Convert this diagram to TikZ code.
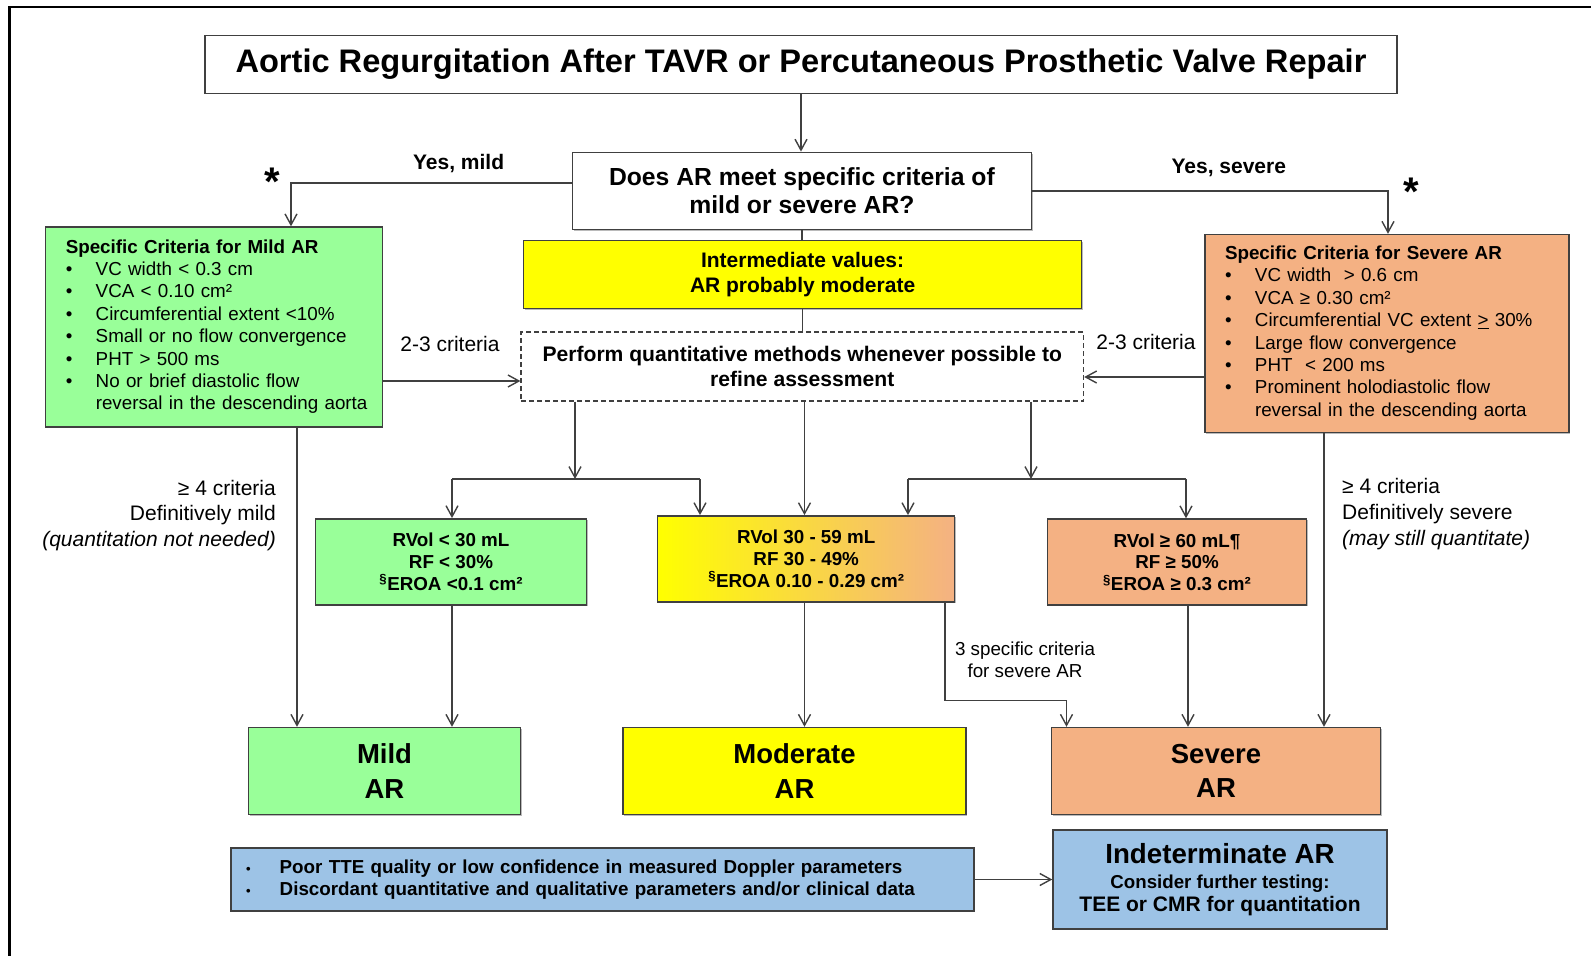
\documentclass[tikz,border=0pt]{standalone}
\usepackage{fontspec}
\setmainfont{Liberation Sans}
\usetikzlibrary{arrows.meta,shadows,calc}
\definecolor{grn}{RGB}{153,255,153}
\definecolor{ylw}{RGB}{255,255,0}
\definecolor{org}{RGB}{244,177,131}
\definecolor{blu}{RGB}{157,195,230}
\definecolor{edge}{RGB}{64,64,64}
\newcommand{\fs}[2]{\fontsize{#1}{#2}\selectfont}
\newcommand{\bul}{\makebox[30pt][l]{\textbullet}}
\newcommand{\sbul}{\makebox[33.7pt][l]{\fs{13}{13}\textbullet}}
\begin{document}
\begin{tikzpicture}[x=1pt,y=-1pt,
  box/.style={draw=edge, line width=1.4pt, inner sep=0pt, align=center,
    drop shadow={shadow xshift=1.2pt, shadow yshift=-1.2pt, fill=black!45, opacity=0.6}},
  arr/.style={draw=edge, line width=1.4pt, -{Straight Barb[length=11pt,width=12pt]}},
  ln/.style={draw=edge, line width=1.4pt},
  lbl/.style={inner sep=0pt, font=\fs{21}{25.7}},
]
\useasboundingbox (0,0) rectangle (1591,956);
\draw[line width=2.5pt] (9.5,970) -- (9.5,7) -- (1600,7);

% boxes
\node[box, fill=white, minimum width=1192pt, minimum height=58pt, font=\bfseries\fs{32.6}{36}] (title) at (801,64.2)
  {Aortic Regurgitation After TAVR or Percutaneous Prosthetic Valve Repair};
\node[box, fill=white, minimum width=459pt, minimum height=77pt, font=\bfseries\fs{24.7}{28.5}] (question) at (801.9,190.8)
  {Does AR meet specific criteria of\\mild or severe AR?};
\node[box, fill=ylw, minimum width=558pt, minimum height=68pt, font=\bfseries\fs{21}{25}] (inter) at (802.6,274.5)
  {Intermediate values:\\AR probably moderate};
\node[draw=edge, line width=1.3pt, dash pattern=on 5pt off 3pt, fill=white, inner sep=0pt, align=center,
  minimum width=562.5pt, minimum height=69pt, font=\bfseries\fs{21.1}{25.5}] (dashed) at (802.3,366.5)
  {Perform quantitative methods whenever possible to\\refine assessment};

\node[box, fill=grn, align=left, text width=296.5pt, inner xsep=20pt, minimum height=200pt, font=\fs{18.8}{22.4}] (mildcrit) at (214,327)
  {\begin{tabular}{@{}l@{}l@{}}
   \multicolumn{2}{@{}l@{}}{\textbf{Specific Criteria for Mild AR}}\\
   \bul & VC width < 0.3 cm\\
   \bul & VCA < 0.10 cm²\\
   \bul & Circumferential extent <10\%\\
   \bul & Small or no flow convergence\\
   \bul & PHT > 500 ms\\
   \bul & No or brief diastolic flow\\
        & reversal in the descending aorta
   \end{tabular}};
\node[box, fill=org, align=left, text width=324pt, inner xsep=20pt, minimum height=198pt, font=\fs{18.8}{22.4}] (sevcrit) at (1387,333.5)
  {\begin{tabular}{@{}l@{}l@{}}
   \multicolumn{2}{@{}l@{}}{\textbf{Specific Criteria for Severe AR}}\\
   \bul & VC width\ \ > 0.6 cm\\
   \bul & VCA ≥ 0.30 cm²\\
   \bul & Circumferential VC extent \underline{>} 30\%\\
   \bul & Large flow convergence\\
   \bul & PHT\ \ < 200 ms\\
   \bul & Prominent holodiastolic flow\\
        & reversal in the descending aorta
   \end{tabular}};

\node[box, fill=grn, minimum width=271pt, minimum height=86pt, font=\bfseries\fs{18.8}{21.7}] (qmild) at (451,561.8)
  {RVol < 30 mL\\RF < 30\%\\\textsuperscript{§}EROA <0.1 cm²};
\node[box, left color=ylw, right color=org, minimum width=297pt, minimum height=86pt, font=\bfseries\fs{18.8}{21.7}] (qmod) at (806.2,558.8)
  {RVol 30 - 59 mL\\RF 30 - 49\%\\\textsuperscript{§}EROA 0.10 - 0.29 cm²};
\node[box, fill=org, minimum width=258.7pt, minimum height=86pt, font=\bfseries\fs{18.8}{21.7}] (qsev) at (1177,562)
  {RVol ≥ 60 mL¶\\RF ≥ 50\%\\\textsuperscript{§}EROA ≥ 0.3 cm²};

\node[box, fill=grn, minimum width=272pt, minimum height=87pt, font=\bfseries\fs{27.5}{34.5}] (mildAR) at (384.5,771) {Mild\\AR};
\node[box, fill=ylw, minimum width=343pt, minimum height=87pt, font=\bfseries\fs{27.5}{34.5}] (modAR) at (794.5,771) {Moderate\\AR};
\node[box, fill=org, minimum width=329pt, minimum height=87pt, font=\bfseries\fs{27.5}{34.5}] (sevAR) at (1216,771) {Severe\\AR};

\node[box, fill=blu, align=left, text width=713pt, inner xsep=15pt, minimum height=63pt, font=\bfseries\fs{18.8}{21.3}] (blue) at (602.5,879.5)
  {\sbul Poor TTE quality or low confidence in measured Doppler parameters\\
   \sbul Discordant quantitative and qualitative parameters and/or clinical data};
\node[box, fill=blu, minimum width=334pt, minimum height=99pt, font=\bfseries\fs{21}{23}] (indet) at (1220,879.5)
  {{\fs{27.7}{30}Indeterminate AR}\\[2.1pt]{\fs{18.7}{23}Consider further testing:}\\TEE or CMR for quantitation};

% labels
\node[lbl, font=\bfseries\fs{21}{25}] (ym) at (458.6,163.4) {Yes, mild};
\node[lbl, font=\bfseries\fs{21}{25}] (ys) at (1228.8,167.4) {Yes, severe};
\node[lbl, font=\bfseries\fs{40}{42}] (astL) at (272.3,181.6) {*};
\node[lbl, font=\bfseries\fs{40}{42}] (astR) at (1411,191.6) {*};
\node[lbl] (c23L) at (450,344) {2-3 criteria};
\node[lbl] (c23R) at (1146,342) {2-3 criteria};
\node[lbl, align=right, anchor=east] (defmild) at (276,515.5)
  {≥ 4 criteria\\Definitively mild\\\textit{(quantitation not needed)}};
\node[lbl, align=left, anchor=west] (defsev) at (1342,514)
  {≥ 4 criteria\\Definitively severe\\\textit{(may still quantitate)}};
\node[lbl, align=center, font=\fs{18.8}{22}] (spec3) at (1025,660) {3 specific criteria\\for severe AR};

% junction coordinates
\coordinate (jL) at (575,479);
\coordinate (jR) at (1031,479);
\coordinate (jLa) at (452,479);
\coordinate (jLb) at (700,479);
\coordinate (jRa) at (908,479);
\coordinate (jRb) at (1186,479);
\coordinate (xm) at (804.5,0);
\coordinate (x1) at (297,0);
\coordinate (x2) at (944.8,700.7);
\coordinate (x3) at (1066.5,700.7);
\coordinate (x4) at (1188,0);
\coordinate (x5) at (1324,0);

% connectors
\draw[arr] (title.south) -- (title.south |- question.north);
\path ([yshift=7.8pt]question.west) coordinate (qw);
\draw[arr] (qw) -| ([xshift=77pt]mildcrit.north);
\draw[arr] (question.east) -| ([xshift=1pt]sevcrit.north);
\draw[ln] (question.south) -- (question.south |- inter.north);
\draw[ln] (inter.south) -- (inter.south |- dashed.north);
\path ([yshift=-54pt]mildcrit.east) coordinate (me);
\draw[arr] (me) -- (me -| dashed.west);
\path ([yshift=-43.5pt]sevcrit.west) coordinate (se);
\draw[arr] (se) -- (se -| dashed.east);

\draw[arr] (jL |- dashed.south) -- (jL);
\draw[ln] (jLa) -- (jLb);
\draw[arr] (jLa) -- (jLa |- qmild.north);
\draw[arr] (jLb) -- (jLb |- qmod.north);
\draw[arr] (jR |- dashed.south) -- (jR);
\draw[ln] (jRa) -- (jRb);
\draw[arr] (jRa) -- (jRa |- qmod.north);
\draw[arr] (jRb) -- (jRb |- qsev.north);
\draw[arr] (xm |- dashed.south) -- (xm |- qmod.north);

\draw[arr] (x1 |- mildcrit.south) -- (x1 |- mildAR.north);
\draw[arr] (jLa |- qmild.south) -- (jLa |- mildAR.north);
\draw[arr] (xm |- qmod.south) -- (xm |- modAR.north);
\draw[arr] (x2 |- qmod.south) -- (x2) -- (x3) -- (x3 |- sevAR.north);
\draw[arr] (x4 |- qsev.south) -- (x4 |- sevAR.north);
\draw[arr] (x5 |- sevcrit.south) -- (x5 |- sevAR.north);
\draw[arr] (blue.east) -- (blue.east -| indet.west);
\end{tikzpicture}
\end{document}
